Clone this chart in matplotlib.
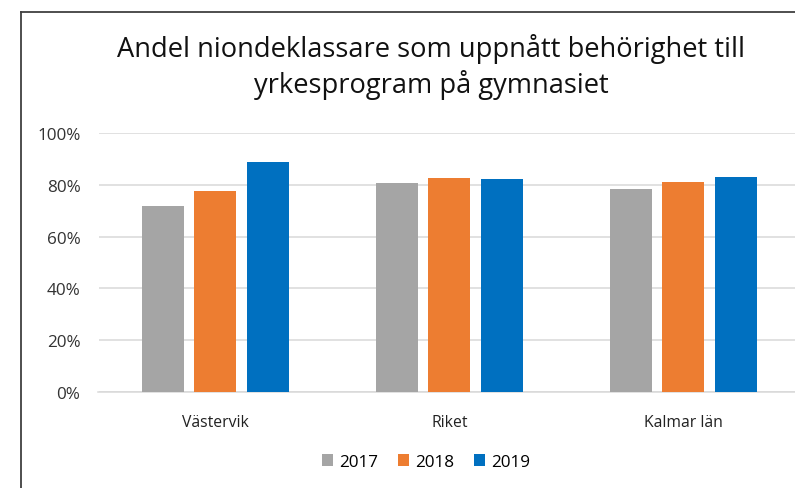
import matplotlib
matplotlib.use("Agg")
import matplotlib.pyplot as plt
import numpy as np
from matplotlib.patches import Patch
from matplotlib.lines import Line2D

categories = ["Västervik", "Riket", "Kalmar län"]
years = ["2017", "2018", "2019"]
values_2017 = [71.9, 80.8, 78.3]
values_2018 = [77.7, 82.6, 81.0]
values_2019 = [88.9, 82.3, 83.0]
series = [values_2017, values_2018, values_2019]
colors = ["#A5A5A5", "#ED7D31", "#0070C0"]
yticks = [0, 20, 40, 60, 80, 100]
ytick_labels = ["0%", "20%", "40%", "60%", "80%", "100%"]

plt.rcParams['font.family'] = ['Open Sans', 'DejaVu Sans']

W, H = 795, 489
fig = plt.figure(figsize=(W / 100, H / 100), dpi=100)

# frame (left and top edges visible)
fig.add_artist(Line2D([21 / W, 21 / W], [0, 1 - 13 / H], color="#404040", lw=1.3))
fig.add_artist(Line2D([21 / W, 1], [1 - 13 / H, 1 - 13 / H], color="#404040", lw=1.3))

left = 98.5 / W
right = 800.3 / W
bottom = (H - 392.7) / H
top = (H - 134.3) / H
ax = fig.add_axes([left, bottom, right - left, top - bottom])

x = np.arange(len(categories))
bw = 42 / 234
step = 52.3 / 234
for i, (vals, c, yr) in enumerate(zip(series, colors, years)):
    ax.bar(x + (i - 1) * step, vals, width=bw, color=c, label=yr, zorder=3)

ax.set_xlim(-0.5, len(categories) - 0.5)
ax.set_ylim(0, 100)
ax.set_yticks(yticks)
ax.set_yticklabels(ytick_labels, fontsize=12.3, color="#333333")
ax.set_xticks(x)
ax.set_xticklabels(categories, fontsize=11.3, color="#222222")
ax.tick_params(axis="both", length=0)
ax.tick_params(axis="y", pad=13)
ax.tick_params(axis="x", pad=16)
ax.grid(axis="y", color="#D9D9D9", lw=1.1, zorder=0)
for s in ["top", "right", "left"]:
    ax.spines[s].set_visible(False)
ax.spines["bottom"].set_color("#D9D9D9")
ax.spines["bottom"].set_linewidth(1.1)

fig.text(431 / W, 1 - 67 / H,
         "Andel niondeklassare som uppnått behörighet till\nyrkesprogram på gymnasiet",
         ha="center", va="center", fontsize=19.6, color="#111111", linespacing=1.3)

handles = [Patch(facecolor=c, edgecolor="none") for c in colors]
fig.legend(handles, years, loc="center", bbox_to_anchor=(426 / W, 1 - 463 / H),
           ncol=3, frameon=False, fontsize=12.3, handlelength=0.65, handleheight=0.65,
           handletextpad=0.35, columnspacing=1.15)

fig.savefig("out.png", dpi=100, facecolor="white")
